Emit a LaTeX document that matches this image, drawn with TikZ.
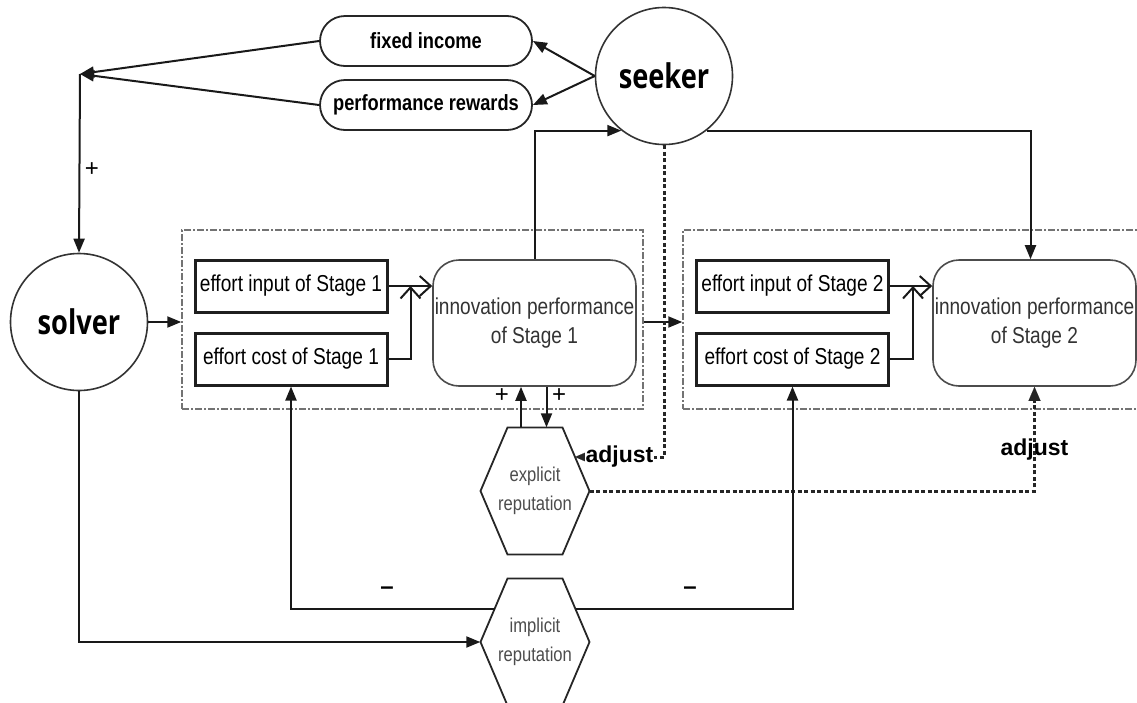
\documentclass[tikz,border=0pt]{standalone}
\usepackage{fontspec}
\setmainfont{Liberation Sans}
\newfontfamily\narrowsans{Liberation Sans}[FakeStretch=0.83]
\newfontfamily\roundsans{Open Sans}[FakeStretch=0.8]
\usetikzlibrary{arrows.meta,calc}

\begin{document}
\begin{tikzpicture}[x=1pt,y=-1pt,
  ink/.style={draw=black!90, line width=2pt},
  conn/.style={ink, -{Triangle[length=14pt,width=11pt]}},
  openconn/.style={ink, -{Straight Barb[length=11pt,width=20pt,line width=2pt]}},
  dotconn/.style={draw=black!85, line width=3pt, dash pattern=on 4pt off 2.5pt,
    -{Triangle[length=14pt,width=12pt,line width=0.1pt]}},
  pill/.style={draw=black!85, line width=1.8pt, rounded corners=25pt,
    minimum width=212pt, minimum height=50pt, inner sep=0pt,
    font=\narrowsans\bfseries\fontsize{22}{26}\selectfont},
  party/.style={circle, draw=black!80, line width=1.6pt, minimum size=137pt,
    inner sep=0pt, font=\roundsans\bfseries\fontsize{34}{40}\selectfont},
  stagebox/.style={draw=black!55, line width=1.5pt,
    dash pattern=on 7pt off 2pt on 2pt off 2pt, minimum height=179pt, inner sep=0pt},
  effortbox/.style={draw=black!88, line width=3pt, minimum width=192pt,
    minimum height=52pt, inner sep=0pt,
    font=\narrowsans\fontsize{23}{28}\selectfont},
  perfbox/.style={draw=black!70, line width=1.6pt, rounded corners=26pt,
    minimum width=203pt, minimum height=126pt, inner sep=0pt, align=center,
    text=black!80, font=\narrowsans\fontsize{23}{29}\selectfont},
  hexholder/.style={minimum width=109pt, minimum height=127pt, inner sep=0pt,
    align=center, text=black!70, font=\narrowsans\fontsize{20}{29}\selectfont},
  hexline/.style={draw=black!85, line width=1.8pt},
  sign/.style={inner sep=0pt, font=\fontsize{24}{24}\selectfont},
  minussign/.style={inner sep=0pt, font=\bfseries\fontsize{24}{24}\selectfont},
  adjustlbl/.style={inner sep=1pt, font=\bfseries\fontsize{23}{23}\selectfont}
]
\useasboundingbox (0,0) rectangle (1137,702);
\clip (0,0) rectangle (1137,702);

% parties
\node[party] (seeker) at (664,76) {seeker};
\node[party] (solver) at (79,322) {solver};

% payment types
\node[pill] (fixed) at (426,41) {fixed income};
\node[pill] (perf) at (426,105) {performance rewards};

% stage frames
\node[stagebox, minimum width=461pt] (box1) at (412.5,319.5) {};
\node[stagebox, minimum width=467pt] (box2) at (916.5,319.5) {};

% stage 1 contents
\node[effortbox] (in1) at (291,286) {effort input of Stage 1};
\node[effortbox] (cost1) at (291,359) {effort cost of Stage 1};
\node[perfbox] (inn1) at (534.5,323) {innovation performance\\of Stage 1};

% stage 2 contents
\node[effortbox] (in2) at (792.5,286) {effort input of Stage 2};
\node[effortbox] (cost2) at (792.5,359) {effort cost of Stage 2};
\node[perfbox] (inn2) at (1034.5,323) {innovation performance\\of Stage 2};

% reputations (hexagons)
\node[hexholder] (exp) at (535,491) {explicit\\reputation};
\node[hexholder] (imp) at (535,642) {implicit\\reputation};
\foreach \h in {exp,imp}
  \draw[hexline] ($(\h.center)+(-54.5,0)$) -- ($(\h.center)+(-27.5,-63.5)$)
    -- ($(\h.center)+(27.5,-63.5)$) -- ($(\h.center)+(54.5,0)$)
    -- ($(\h.center)+(27.5,63.5)$) -- ($(\h.center)+(-27.5,63.5)$) -- cycle;

% seeker pays the solver
\coordinate (merge) at (80,74);
\draw[conn] (seeker.west) -- (fixed.east);
\draw[conn] (seeker.west) -- (perf.east);
\draw[conn] (fixed.west) -- (merge);
\draw[conn] (perf.west) -- (merge);
\draw[conn] (merge) -- (solver.north);
\node[sign] (plusA) at (92,170) {+};

% solver enters the stages
\draw[conn] (solver.east) -- (solver.east -| box1.west);
\draw[conn] (box1.east |- solver.east) -- (box2.west |- solver.east);

% effort to performance
\draw[openconn] (in1.east) -- (in1.east -| inn1.west);
\draw[openconn] (cost1.east) -| ($(in1.east)+(22,0)$);
\draw[openconn] (in2.east) -- (in2.east -| inn2.west);
\draw[openconn] (cost2.east) -| ($(in2.east)+(23,0)$);

% performance reaches the seeker, seeker drives stage 2
\draw[conn] (inn1.north) |- (seeker.-128);
\draw[conn] (seeker.-52) -| ([xshift=-4pt]inn2.north);

% stage 1 performance and explicit reputation
\draw[conn] ([xshift=-14pt]exp.north) -- ([xshift=-14pt]exp.north |- inn1.south);
\draw[conn] ([xshift=12pt]inn1.south) -- ([xshift=12pt]inn1.south |- exp.north);
\node[sign] (plusB) at (502,396) {+};
\node[sign] (plusC) at (559,396) {+};

% seeker adjustments
\draw[dotconn] (seeker.south) |- ($(exp.center)+(40,-34)$)
  node[adjustlbl, pos=0.75, fill=white] {adjust};
\draw[dotconn] (exp.east) -| (inn2.south)
  node[adjustlbl, pos=0.7] {adjust};

% implicit reputation
\draw[conn] (solver.south) |- (imp.west);
\draw[conn] ($(imp.center)+(-40.5,-33)$) -| (cost1.south);
\draw[conn] ($(imp.center)+(40.5,-33)$) -| (cost2.south);
\node[minussign] (minusA) at (387,591) {--};
\node[minussign] (minusB) at (690,591) {--};
\end{tikzpicture}
\end{document}
